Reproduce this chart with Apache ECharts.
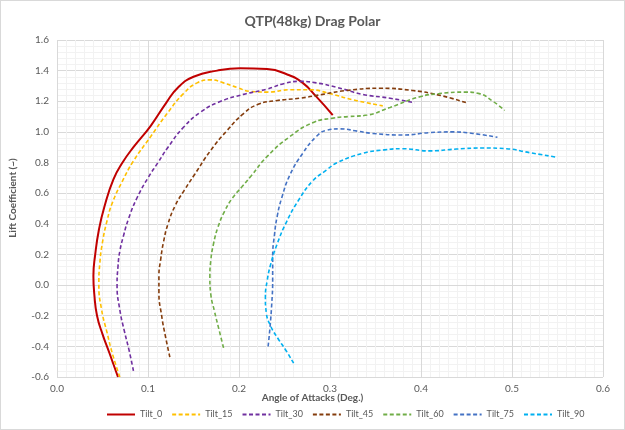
<!DOCTYPE html>
<html>
<head>
<meta charset="utf-8">
<script src="https://cdn.jsdelivr.net/npm/echarts@6/dist/echarts.min.js"></script>
<style>
  html, body { margin: 0; padding: 0; background: #fff; }
  #chart { width: 625px; height: 430px; box-sizing: border-box; border: 1px solid #d9d9d9; }
</style>
</head>
<body>
<div id="chart"></div>
<script>
// 曲线数据 [阻力, 升力]，从图上读出来的
var seriesNames = ['Tilt_0', 'Tilt_15', 'Tilt_30', 'Tilt_45', 'Tilt_60', 'Tilt_75', 'Tilt_90'];
var tilt0 = [[0.067,-0.60],[0.058,-0.45],[0.050,-0.32],[0.044,-0.20],[0.041,-0.06],[0.040,0.06],[0.042,0.20],[0.046,0.36],[0.052,0.51],[0.062,0.69],[0.072,0.80],[0.084,0.90],[0.103,1.04],[0.120,1.19],[0.133,1.29],[0.150,1.36],[0.176,1.40],[0.201,1.415],[0.231,1.41],[0.253,1.375],[0.270,1.32],[0.285,1.23],[0.303,1.11]];
var tilt15 = [[0.069,-0.60],[0.061,-0.45],[0.055,-0.31],[0.049,-0.16],[0.046,0.0],[0.047,0.14],[0.050,0.28],[0.055,0.42],[0.061,0.54],[0.072,0.68],[0.084,0.81],[0.103,0.97],[0.121,1.12],[0.139,1.25],[0.154,1.32],[0.169,1.34],[0.183,1.32],[0.198,1.29],[0.212,1.265],[0.231,1.26],[0.256,1.275],[0.278,1.275],[0.300,1.25],[0.325,1.21],[0.358,1.17]];
var tilt30 = [[0.084,-0.56],[0.079,-0.42],[0.074,-0.30],[0.069,-0.16],[0.066,0.0],[0.067,0.12],[0.069,0.22],[0.073,0.32],[0.079,0.44],[0.088,0.57],[0.100,0.70],[0.111,0.80],[0.122,0.90],[0.139,1.03],[0.158,1.13],[0.178,1.195],[0.205,1.245],[0.231,1.28],[0.249,1.315],[0.267,1.33],[0.285,1.32],[0.308,1.29],[0.336,1.245],[0.366,1.22],[0.393,1.19]];
var tilt45 = [[0.124,-0.47],[0.119,-0.33],[0.115,-0.20],[0.112,-0.05],[0.112,0.06],[0.114,0.17],[0.117,0.28],[0.122,0.40],[0.130,0.52],[0.140,0.62],[0.151,0.72],[0.169,0.88],[0.187,1.01],[0.205,1.12],[0.221,1.18],[0.242,1.205],[0.267,1.22],[0.292,1.245],[0.318,1.27],[0.355,1.285],[0.391,1.27],[0.420,1.24],[0.450,1.19]];
var tilt60 = [[0.183,-0.41],[0.178,-0.29],[0.173,-0.17],[0.169,-0.06],[0.168,0.05],[0.169,0.16],[0.172,0.27],[0.177,0.38],[0.184,0.48],[0.193,0.57],[0.203,0.64],[0.213,0.71],[0.231,0.84],[0.256,0.97],[0.281,1.06],[0.303,1.09],[0.320,1.10],[0.341,1.11],[0.366,1.16],[0.399,1.23],[0.420,1.25],[0.448,1.26],[0.464,1.25],[0.479,1.20],[0.492,1.14]];
var tilt75 = [[0.232,-0.40],[0.234,-0.28],[0.236,-0.12],[0.237,0.03],[0.237,0.18],[0.239,0.33],[0.242,0.45],[0.247,0.57],[0.256,0.72],[0.270,0.86],[0.285,0.97],[0.296,1.01],[0.311,1.02],[0.330,1.005],[0.347,0.99],[0.380,0.98],[0.409,0.995],[0.435,1.00],[0.457,0.99],[0.484,0.965]];
var tilt90 = [[0.260,-0.51],[0.252,-0.43],[0.243,-0.35],[0.235,-0.27],[0.230,-0.18],[0.229,-0.08],[0.231,0.03],[0.235,0.14],[0.242,0.27],[0.252,0.41],[0.265,0.55],[0.281,0.68],[0.296,0.75],[0.308,0.80],[0.336,0.86],[0.360,0.883],[0.380,0.89],[0.409,0.876],[0.439,0.888],[0.468,0.895],[0.494,0.89],[0.519,0.865],[0.549,0.835]];
var allData = [tilt0, tilt15, tilt30, tilt45, tilt60, tilt75, tilt90];
var colors = ['#C00000', '#FFC000', '#7030A0', '#843C0C', '#70AD47', '#4472C4', '#00B0F0'];

var chart = echarts.init(document.getElementById('chart'));
var font = 'Lato, "Open Sans", sans-serif';

var series = [];
var legendItems = [];
for (var i = 0; i < allData.length; i++) {
    series.push({
        name: seriesNames[i],
        type: 'line',
        data: allData[i],
        smooth: 0.5,
        symbol: 'none',
        lineStyle: {
            color: colors[i],
            width: i == 0 ? 2 : 1.6,
            type: i == 0 ? 'solid' : [4, 2.5]
        },
        itemStyle: { color: colors[i] }
    });
    // 第一个图例文字短，给个固定宽度跟原图间距一致
    legendItems.push(i == 0 ? { name: seriesNames[i], textStyle: { width: 24 } } : seriesNames[i]);
}

var option = {
    animation: false,
    textStyle: { fontFamily: font },
    title: {
        text: 'QTP(48kg) Drag Polar',
        left: 'center',
        top: 8,
        textStyle: { fontSize: 14, fontWeight: 'bold', color: '#595959', fontFamily: font }
    },
    legend: {
        data: legendItems,
        left: 105,
        top: 409,
        width: 515,
        padding: 0,
        itemWidth: 28,
        itemHeight: 8,
        itemGap: 9,
        itemStyle: { opacity: 0 },
        textStyle: { fontSize: 9, color: '#595959', fontFamily: font }
    },
    grid: { left: 56, right: 21, top: 39, bottom: 52 },
    xAxis: {
        type: 'value',
        min: 0,
        max: 0.6,
        interval: 0.1,
        axisLine: { onZero: true, lineStyle: { color: '#d9d9d9' } },
        axisTick: { show: false },
        axisLabel: {
            color: '#595959', fontSize: 10, margin: 7,
            formatter: function (v) { return v.toFixed(1); }
        },
        splitLine: { lineStyle: { color: '#d9d9d9' } },
        minorTick: { show: false, splitNumber: 10 },
        minorSplitLine: { show: true, lineStyle: { color: '#f2f2f2' } }
    },
    yAxis: {
        type: 'value',
        min: -0.6,
        max: 1.6,
        interval: 0.2,
        axisLine: { show: false },
        axisTick: { show: false },
        axisLabel: {
            color: '#595959', fontSize: 10, margin: 8,
            formatter: function (v) { return v.toFixed(1); }
        },
        splitLine: { lineStyle: { color: '#d9d9d9' } },
        minorTick: { show: false, splitNumber: 5 },
        minorSplitLine: { show: true, lineStyle: { color: '#f2f2f2' } }
    },
    graphic: [
        {
            type: 'text', left: 'center', top: 392,
            style: { text: 'Angle of Attacks (Deg.)', fontSize: 10, fontWeight: 'bold', fill: '#595959', fontFamily: font }
        },
        {
            type: 'text', x: 12, y: 197, rotation: Math.PI / 2,
            style: { text: 'Lift Coefficient (~)', fontSize: 10, fontWeight: 'bold', fill: '#595959', fontFamily: font, align: 'center', verticalAlign: 'middle' }
        }
    ],
    series: series
};

chart.setOption(option);
</script>
</body>
</html>
